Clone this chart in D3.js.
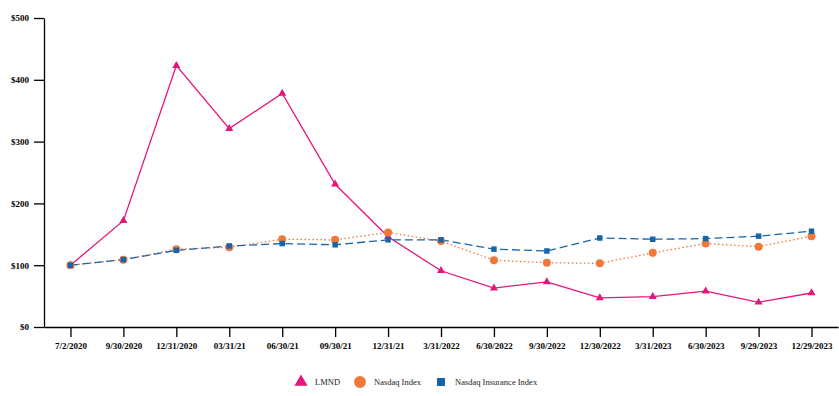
<!DOCTYPE html>
<html><head><meta charset="utf-8">
<script src="https://cdn.jsdelivr.net/npm/d3@7"></script>
<style>body{margin:0;background:#fff}svg{display:block}text{font-family:"Liberation Serif","Times New Roman",serif}</style>
</head><body><svg id="c" width="839" height="396"></svg>
<script>
const categories = ["7/2/2020","9/30/2020","12/31/2020","03/31/21","06/30/21","09/30/21","12/31/21","3/31/2022","6/30/2022","9/30/2022","12/30/2022","3/31/2023","6/30/2023","9/29/2023","12/29/2023"];
const lmnd = [100,172,423,321,378,231,146,91,63,73,47,49,58,40,55];
const nasdaq = [100,109,126,129,142,141,153,139,108,104,103,120,135,130,147];
const insurance = [100,109,124,131,135,133,141,141,126,123,144,142,143,147,155];
const yTicks = [0,100,200,300,400,500];
const seriesNames = ["LMND","Nasdaq Index","Nasdaq Insurance Index"];

const svg = d3.select("#c");
const x = d3.scalePoint().domain(categories).range([44,838]).padding(0.5);
const y = d3.scaleLinear().domain([0,500]).range([327,18]);

const xAxis = svg.append("g").attr("transform","translate(0,327)")
  .call(d3.axisBottom(x).tickSize(10).tickPadding(6).tickSizeOuter(0));
xAxis.selectAll("text").attr("font-size",9).attr("font-weight","bold").attr("fill","#000");
const yAxis = svg.append("g").attr("transform","translate(44,0)")
  .call(d3.axisLeft(y).tickValues(yTicks).tickFormat(d=>"$"+d).tickSize(10).tickPadding(5).tickSizeOuter(0));
yAxis.selectAll("text").attr("font-size",9).attr("font-weight","bold").attr("fill","#000");
svg.selectAll(".domain,.tick line").attr("stroke","#000").attr("stroke-width",1.3);

const line = d3.line().x((d,i)=>x(categories[i])).y(d=>y(d));
const cfg = [
  {data:lmnd, color:"#e5167a", dash:null, sym:d3.symbolTriangle, size:28},
  {data:nasdaq, color:"#f07838", dash:"1.5,2.5", sym:d3.symbolCircle, size:50},
  {data:insurance, color:"#1565a8", dash:"8,4", sym:d3.symbolSquare, size:30}
];
cfg.forEach(c=>{
  svg.append("path").datum(c.data).attr("d",line).attr("fill","none")
    .attr("stroke",c.color).attr("stroke-width",1.3).attr("stroke-dasharray",c.dash);
});
cfg.forEach(c=>{
  svg.append("g").selectAll("path").data(c.data).join("path")
    .attr("transform",(d,i)=>`translate(${x(categories[i])},${y(d)})`)
    .attr("d",d3.symbol().type(c.sym).size(c.size)).attr("fill",c.color);
});

// legend
const legX = [301,360,441];
const lg = svg.append("g");
cfg.forEach((c,i)=>{
  lg.append("path").attr("transform",`translate(${legX[i]},382)`)
    .attr("d",d3.symbol().type(c.sym).size(i===1?110:i===0?75:64)).attr("fill",c.color);
  lg.append("text").attr("x",legX[i]+14).attr("y",385).attr("font-size",8.5).attr("fill","#222").text(seriesNames[i]);
});
</script></body></html>
